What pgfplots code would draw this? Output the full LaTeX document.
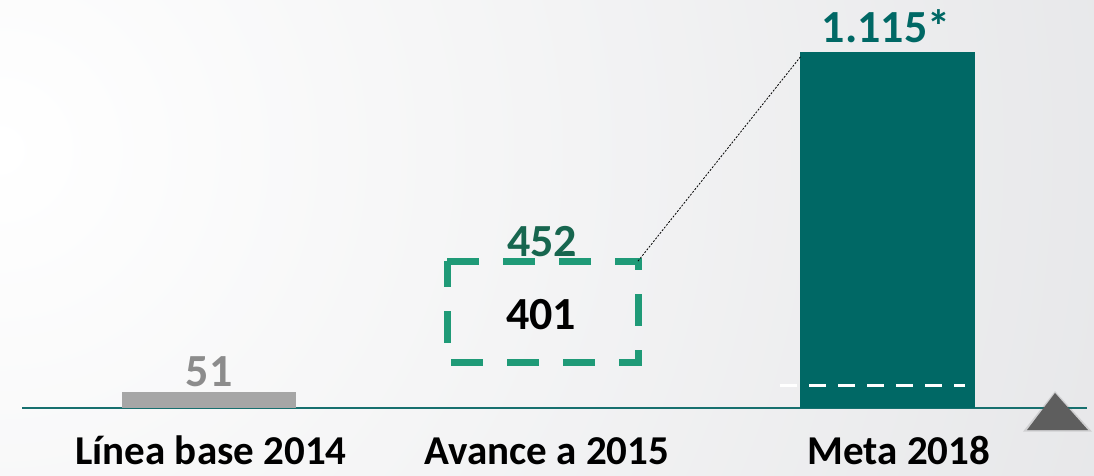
\documentclass[border=0pt]{standalone}
\usepackage{pgfplots}
\pgfplotsset{compat=1.18}
\usepackage{fontspec}
\setmainfont{Carlito}
\definecolor{bgout}{HTML}{CFD0D4}
\definecolor{barGray}{HTML}{A6A6A6}
\definecolor{valGray}{HTML}{8C8C8C}
\definecolor{barTeal}{HTML}{006865}
\definecolor{boxGreen}{HTML}{1F9A77}
\definecolor{darkGreen}{HTML}{17664F}
\definecolor{lineTeal}{HTML}{17706F}
\definecolor{triGray}{HTML}{5E5E5E}
\begin{document}
\begin{tikzpicture}[x=1pt,y=1pt]
\useasboundingbox (0,0) rectangle (1094,476);
\begin{scope}
\clip (0,0) rectangle (1094,476);
\fill[bgout] (0,0) rectangle (1094,476);
\shade[inner color=white, outer color=bgout] (0,326) circle (2300);
\end{scope}
\begin{axis}[at={(0,0)}, anchor=south west, scale only axis,
  width=1094pt, height=476pt, xmin=0, xmax=1094, ymin=-213, ymax=1277.8,
  hide axis, clip=false]
% baseline
\addplot[lineTeal, line width=1.5pt] coordinates {(22,0) (1087,0)};
% bars
\addplot[draw=none, fill=barGray] coordinates {(122,0) (296,0) (296,51) (122,51)} -- cycle;
\addplot[draw=none, fill=barTeal] coordinates {(800,0) (975,0) (975,1115) (800,1115)} -- cycle;
% dashed box (avance)
\addplot[boxGreen, line width=7pt, dash pattern=on 32pt off 24pt] coordinates {(447,459) (638,459) (638,141) (447,141)} -- cycle;
% white dashed line in meta bar
\addplot[white, line width=3pt, dash pattern=on 17pt off 12pt] coordinates {(780,69) (965,69)};
% triangle with soft shadow
\addplot[draw=none, fill=triGray, opacity=0.18] coordinates {(1023,-74) (1092,-74) (1055,53)} -- cycle;
\addplot[draw=none, fill=triGray] coordinates {(1027,-69) (1088,-69) (1055,47)} -- cycle;
% connector
\draw[black, line width=0.8pt, dash pattern=on 2pt off 1.5pt] (axis cs:638,460) -- (axis cs:801,1102);
% value labels
\node[anchor=base, font=\fontsize{46}{50}\selectfont\bfseries, text=valGray] at (axis cs:209,65.8) {51};
\node[anchor=base, font=\fontsize{46}{50}\selectfont\bfseries, text=darkGreen] at (axis cs:542,476) {452};
\node[anchor=base, font=\fontsize{46}{50}\selectfont\bfseries, text=black] at (axis cs:541,247) {401};
\node[anchor=base, font=\fontsize{46}{50}\selectfont\bfseries, text=barTeal] at (axis cs:886,1146) {1.115*};
% category labels
\node[anchor=base, inner sep=0pt, font=\fontsize{41}{46}\selectfont\bfseries] at (axis cs:211,-177) {Línea base 2014};
\node[anchor=base, inner sep=0pt, font=\fontsize{41}{46}\selectfont\bfseries] at (axis cs:547,-177) {Avance a 2015};
\node[anchor=base, inner sep=0pt, font=\fontsize{41}{46}\selectfont\bfseries] at (axis cs:899,-177) {Meta 2018};
\end{axis}
\end{tikzpicture}
\end{document}
